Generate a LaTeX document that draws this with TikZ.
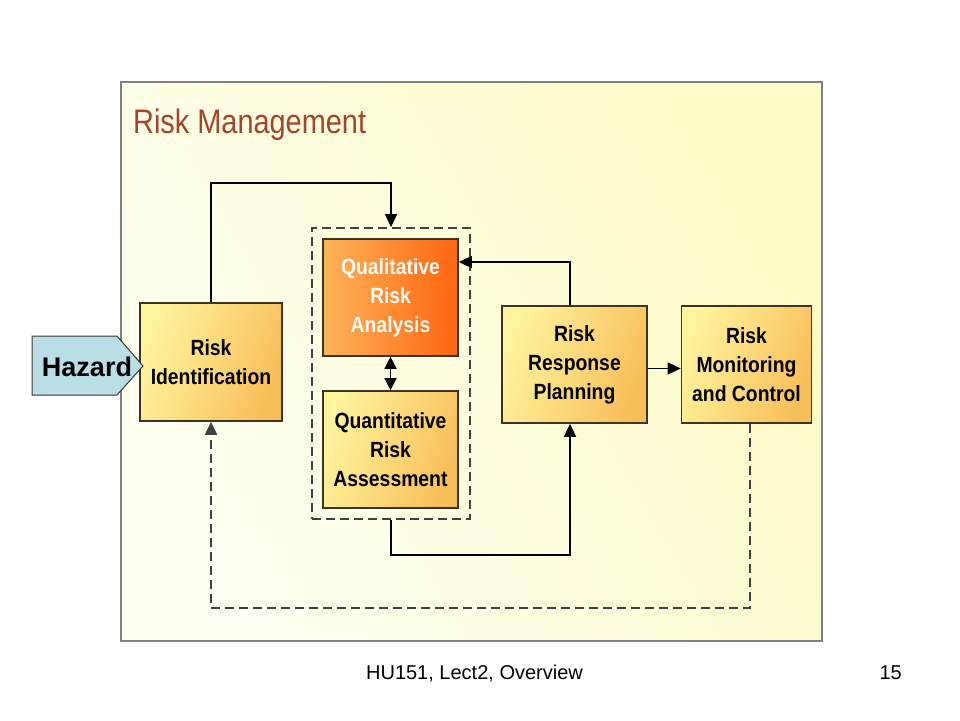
\documentclass[tikz,border=0pt]{standalone}
\usepackage{fontspec}
\setmainfont{Liberation Sans}
\newfontfamily\boxfont[FakeStretch=0.88]{Liberation Sans}
\newfontfamily\titlefont[FakeStretch=0.85]{Liberation Sans}
\usetikzlibrary{arrows.meta,calc}
\definecolor{panelA}{HTML}{FFFFF2}
\definecolor{panelB}{HTML}{FEFBC6}
\definecolor{panelEdge}{HTML}{808080}
\definecolor{boxLight}{HTML}{FFF49E}
\definecolor{boxDark}{HTML}{F8BE58}
\definecolor{qualLight}{HTML}{FDB45A}
\definecolor{qualDark}{HTML}{FF650E}
\definecolor{edgeC}{HTML}{3C3428}
\definecolor{titleC}{HTML}{A3452A}
\definecolor{hazFill}{HTML}{B9DEE6}
\definecolor{dashC}{HTML}{404040}
\tikzset{
  stepbox/.style={draw=edgeC, line width=1.6pt, left color=boxLight, right color=boxDark,
    shading angle=70, inner sep=0pt, align=center,
    font=\boxfont\bfseries\fontsize{22}{29}\selectfont, text=black},
  qualbox/.style={stepbox, left color=qualLight, right color=qualDark, text=white!96!orange},
  arr/.style={draw=black, line width=1.4pt, -{Triangle[length=13pt,width=12pt]}},
  dasharr/.style={draw=dashC, line width=1.8pt, dash pattern=on 9pt off 5pt,
    -{Triangle[length=13pt,width=12pt]}},
}
\begin{document}
\begin{tikzpicture}[x=1pt,y=-1pt]
\useasboundingbox (0,0) rectangle (960,720);
\fill[white] (0,0) rectangle (960,720);
% panel
\shade[left color=panelA, right color=panelB, shading angle=120] (121,82) rectangle (822,641);
\draw[panelEdge, line width=2.5pt] (121,82) rectangle (822,641);
\node[anchor=base west, inner sep=0pt, text=titleC, font=\titlefont\fontsize{34}{38}\selectfont] (title) at (133,133) {Risk Management};
% group
\node[draw=dashC, line width=1.8pt, dash pattern=on 9pt off 5pt, minimum width=158pt, minimum height=291pt, inner sep=0pt] (grp) at (391,373.5) {};
% boxes
\node[stepbox, minimum width=142pt, minimum height=118pt] (rid) at (211,362) {Risk\\Identification};
\node[qualbox, minimum width=135pt, minimum height=117pt] (qual) at (390.5,297.5) {Qualitative\\Risk\\Analysis};
\node[stepbox, minimum width=135pt, minimum height=117pt] (quant) at (390.5,449.5) {Quantitative\\Risk\\Assessment};
\node[stepbox, minimum width=145pt, minimum height=117pt] (plan) at (574.5,364.5) {Risk\\Response\\Planning};
\node[stepbox, minimum width=130pt, minimum height=117pt] (mon) at (746.5,364.5) {Risk\\Monitoring\\and Control};
% hazard
\draw[edgeC, line width=1pt, fill=hazFill] (32,336) -- (117,336) -- (143,366) -- (117,395) -- (32,395) -- cycle;
\node[inner sep=0pt, font=\bfseries\fontsize{27}{30}\selectfont] (hazard) at (87,367) {Hazard};
% coordinates
\coordinate (c1) at (391,183);
\coordinate (c2) at (570,262);
\coordinate (c3) at (570,555);
\coordinate (c5) at (750,608);
% connectors
\draw[arr] (rid.north) |- (c1) -- (grp.north);
\draw[arr] (c2 |- plan.north) -- (c2) -- (c2 -| qual.east);
\draw[draw=black, line width=1.4pt, {Triangle[length=12pt,width=12pt]}-{Triangle[length=12pt,width=12pt]}] (qual.south) -- (quant.north);
\draw[arr] (grp.south) |- (c3) -- (c3 |- plan.south);
\draw[arr] ([yshift=-4pt]plan.east) -- ([yshift=-4pt]mon.west);
\draw[dasharr] (c5 |- mon.south) -- (c5) -| (rid.south);
% footer
\node[anchor=base, inner sep=0pt, font=\fontsize{20}{24}\selectfont] (footer) at (474.5,679) {HU151, Lect2, Overview};
\node[anchor=base east, inner sep=0pt, font=\fontsize{20}{24}\selectfont] (pagenum) at (902,679) {15};
\end{tikzpicture}
\end{document}
